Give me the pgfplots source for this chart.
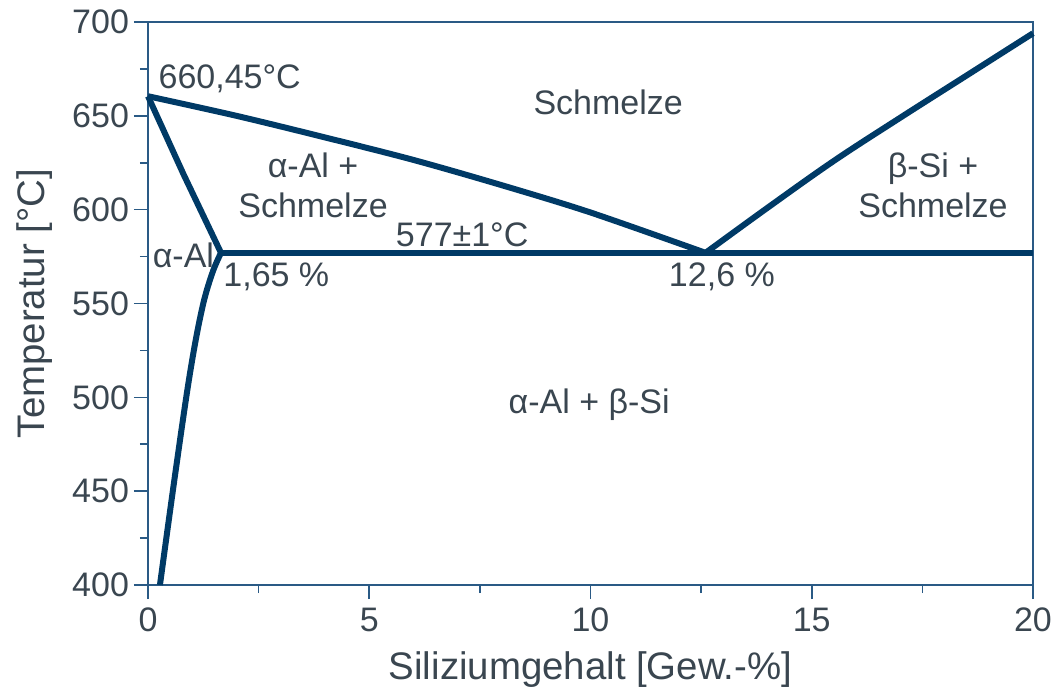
\documentclass[border=0pt]{standalone}
\usepackage{pgfplots}
\pgfplotsset{compat=1.18}
\usepackage{fontspec}
\setmainfont{Liberation Sans}
\definecolor{axcol}{HTML}{2A5A85}
\definecolor{curve}{HTML}{003A66}
\definecolor{txt}{HTML}{3A4650}
\begin{document}
\begin{tikzpicture}
\begin{axis}[
  scale only axis,
  width=442.5pt, height=281.5pt,
  xmin=0, xmax=20, ymin=400, ymax=700,
  xtick={0,5,10,15,20}, ytick={400,450,...,700},
  minor xtick={2.5,7.5,12.5,17.5}, minor ytick={425,475,...,675},
  tick align=outside, tick pos=left,
  major tick length=7pt, minor tick length=4pt,
  every tick/.style={axcol, line width=0.8pt},
  axis line style={axcol, line width=1pt},
  /pgf/number format/assume math mode=true,
  ticklabel style={font=\fontsize{17}{19}\selectfont, text=txt},
  xticklabel style={yshift=-1pt},
  yticklabel style={xshift=1pt},
  xlabel={Siliziumgehalt [Gew.-\%]},
  ylabel={Temperatur [°C]},
  label style={font=\fontsize{19.2}{23}\selectfont, text=txt},
  xlabel style={yshift=-3pt},
  ylabel style={yshift=3pt},
  clip=false,
]
% liquidus Al side
\addplot[curve, line width=3pt, line join=round, smooth, tension=0.5] coordinates {
 (0,660.45) (2,650) (4,638.5) (6,626.5) (8,613) (10,598.5) (12.6,577)};
% solidus
\addplot[curve, line width=3pt, line join=round] coordinates {
 (0,660.45) (0.8,619) (1.65,577)};
% solvus
\addplot[curve, line width=3pt, line join=round, smooth, tension=0.6] coordinates {
 (0.27,400) (0.62,460) (0.95,513) (1.22,547) (1.45,566) (1.65,577)};
% eutectic line
\addplot[curve, line width=3pt] coordinates {(1.65,577) (20,577)};
% Si liquidus
\addplot[curve, line width=3pt, line join=round, smooth, tension=0.6] coordinates {
 (12.6,577) (14,601) (15.5,626) (17,649) (18.5,671.5) (20,694)};
\begin{scope}[every node/.style={font=\fontsize{17}{20}\selectfont, text=txt}]
\node[anchor=west] at (axis cs:0.08,669.5) {660,45°C};
\node at (axis cs:10.4,657) {Schmelze};
\node[align=center] at (axis cs:3.73,613) {α-Al +\\Schmelze};
\node at (axis cs:7.1,586.5) {577±1°C};
\node at (axis cs:0.8,575.5) {α-Al};
\node at (axis cs:2.9,564) {1,65 \%};
\node at (axis cs:12.97,564) {12,6 \%};
\node[align=center] at (axis cs:17.74,613) {β-Si +\\Schmelze};
\node at (axis cs:9.97,496) {α-Al + β-Si};
\end{scope}
\end{axis}
\pgfresetboundingbox
\path (-74pt,-53pt) rectangle (453.5pt,292.5pt);
\end{tikzpicture}
\end{document}
